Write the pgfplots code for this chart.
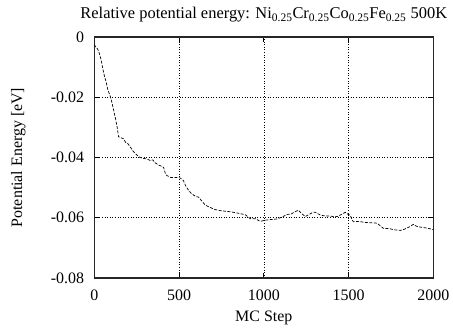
\documentclass[border=0pt]{standalone}
\usepackage{fontspec}
\setmainfont{Liberation Serif}
\usepackage{pgfplots}
\pgfplotsset{compat=1.18}
\begin{document}
\fontsize{16}{19}\selectfont
\begin{tikzpicture}[x=1bp,y=1bp]
\begin{axis}[
  scale only axis, width=339bp, height=241bp,
  xmin=0, xmax=2000, ymin=-0.08, ymax=0,
  scaled y ticks=false, scaled x ticks=false,
  xtick={0,500,1000,1500,2000},
  xticklabels={0,500,1000,1500,2000},
  ytick={-0.08,-0.06,-0.04,-0.02,0},
  yticklabels={-0.08,-0.06,-0.04,-0.02,0},
  grid=major,
  major grid style={black, line width=0.6pt, dotted},
  axis line style={line width=1.2pt, black!85},
  tick style={black, line width=0.8pt},
  tick align=inside, major tick length=5bp,
  xtick pos=both, ytick pos=both,
  xlabel={MC Step}, ylabel={Potential Energy [eV]},
  title={Relative potential energy: Ni\textsubscript{0.25}Cr\textsubscript{0.25}Co\textsubscript{0.25}Fe\textsubscript{0.25} 500K},
  every axis title/.style={at={(axis description cs:0.5,1.0913)}, anchor=center, font=\fontsize{16.5}{19}\selectfont},
  every axis x label/.style={at={(axis description cs:0.5,-0.166)}, anchor=center, font=\fontsize{16}{19}\selectfont},
  every axis y label/.style={at={(axis description cs:-0.224,0.5)}, anchor=center, rotate=90, font=\fontsize{16}{19}\selectfont},
  xticklabel style={anchor=center, yshift=-17bp},
  yticklabel style={anchor=east, inner sep=0pt, xshift=-10bp},
  tick label style={font=\fontsize{16}{19}\selectfont},
]
\addplot[black, line width=0.7pt, dash pattern=on 3pt off 1.5pt] coordinates {
(0,-0.0025) (10,-0.0035) (20,-0.004) (30,-0.0055) (40,-0.0075) (50,-0.0105)
(60,-0.013) (70,-0.015) (80,-0.0175) (95,-0.0198) (105,-0.022) (115,-0.0245)
(125,-0.027) (135,-0.030) (143,-0.0331) (160,-0.0335) (173,-0.0338) (185,-0.035)
(200,-0.0355) (212,-0.0365) (230,-0.038) (252,-0.0392) (270,-0.040) (290,-0.0403)
(311,-0.0405) (330,-0.041) (345,-0.0408) (360,-0.0418) (380,-0.0425) (400,-0.043)
(409,-0.0433) (420,-0.0455) (429,-0.046) (450,-0.0466) (470,-0.0467) (490,-0.0466)
(507,-0.0468) (525,-0.0476) (540,-0.0495) (555,-0.0508) (570,-0.0518) (584,-0.0524)
(600,-0.053) (614,-0.0531) (635,-0.0545) (655,-0.0558) (680,-0.0565) (714,-0.0573)
(750,-0.0577) (802,-0.058) (850,-0.0585) (891,-0.059) (920,-0.0603) (950,-0.0603)
(979,-0.0612) (1010,-0.0608) (1040,-0.0606) (1078,-0.0604) (1110,-0.0597) (1137,-0.0589)
(1160,-0.0588) (1185,-0.058) (1204,-0.0575) (1225,-0.0587) (1245,-0.0596) (1270,-0.0588)
(1290,-0.0582) (1304,-0.0582) (1330,-0.059) (1350,-0.0593) (1373,-0.0594) (1400,-0.0595)
(1420,-0.0597) (1440,-0.0595) (1460,-0.0588) (1481,-0.0582) (1495,-0.0588) (1510,-0.0592)
(1520,-0.0605) (1528,-0.0613) (1560,-0.0612) (1590,-0.0615) (1609,-0.0616) (1640,-0.0617)
(1668,-0.0618) (1690,-0.0628) (1705,-0.0635) (1740,-0.0636) (1770,-0.064) (1805,-0.0642)
(1830,-0.0638) (1860,-0.063) (1882,-0.0622) (1900,-0.0628) (1923,-0.0631) (1960,-0.0634)
(1992,-0.0638) (2000,-0.064)
};
\end{axis}
\pgfresetboundingbox
\path (current axis.south west) ++(-94.3bp,-52bp) coordinate (bbA);
\path (current axis.south west) ++(358.7bp,278bp) coordinate (bbB);
\path[use as bounding box] (bbA) rectangle (bbB);
\end{tikzpicture}
\end{document}
